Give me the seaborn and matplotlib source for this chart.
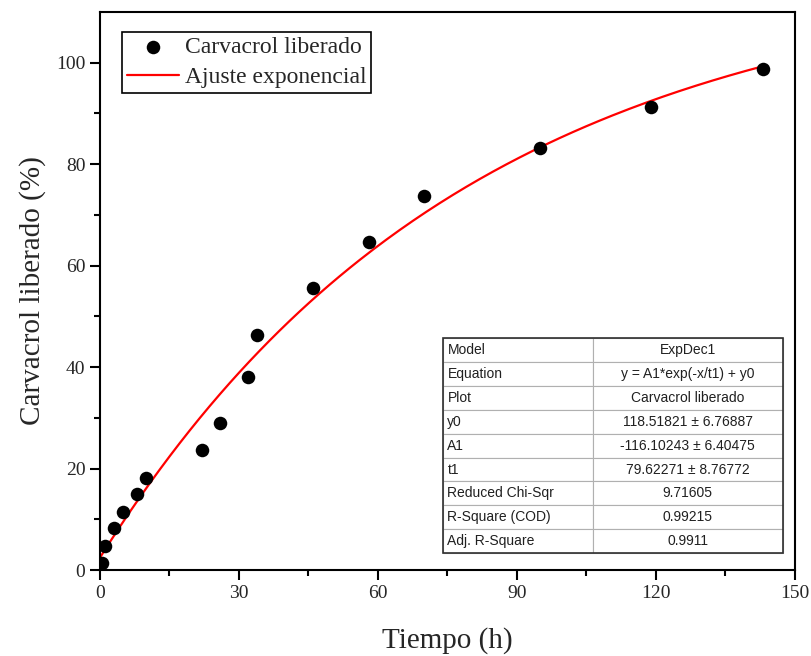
import matplotlib
matplotlib.use('Agg')
import matplotlib.pyplot as plt
import seaborn as sns
import numpy as np
import pandas as pd

# Data
tiempo = [0.5, 1, 3, 5, 8, 10, 22, 26, 32, 34, 46, 58, 70, 95, 119, 143]
liberado = [1.4, 4.7, 8.3, 11.5, 15.0, 18.2, 23.7, 28.9, 38.1, 46.4, 55.5, 64.6, 73.7, 83.2, 91.3, 98.8]

# Fit parameters (ExpDec1) as reported in the table
y0, A1, t1 = 118.51821, -116.10243, 79.62271

tabla_nombres = ['Model', 'Equation', 'Plot', 'y0', 'A1', 't1',
                 'Reduced Chi-Sqr', 'R-Square (COD)', 'Adj. R-Square']
tabla_valores = ['ExpDec1', 'y = A1*exp(-x/t1) + y0', 'Carvacrol liberado',
                 '118.51821 \u00b1 6.76887', '-116.10243 \u00b1 6.40475',
                 '79.62271 \u00b1 8.76772', '9.71605', '0.99215', '0.9911']

data = pd.DataFrame({'Tiempo': tiempo, 'Liberado': liberado})
x_fit = np.linspace(0, 143, 200)
ajuste = pd.DataFrame({'Tiempo': x_fit, 'Liberado': A1 * np.exp(-x_fit / t1) + y0})

sns.set_style('ticks')
plt.rcParams['font.family'] = ['Liberation Serif', 'DejaVu Serif']

fig = plt.figure(figsize=(8.12, 6.56), dpi=100)
ax = fig.add_axes([0.123, 0.131, 0.856, 0.851])

sns.scatterplot(x='Tiempo', y='Liberado', data=data, ax=ax, color='black',
                s=95, edgecolor='black', linewidth=0, label='Carvacrol liberado', zorder=3)
sns.lineplot(x='Tiempo', y='Liberado', data=ajuste, ax=ax, color='red',
             linewidth=1.6, label='Ajuste exponencial', zorder=2)

ax.set_xlim(0, 150)
ax.set_ylim(0, 110)
ax.set_xticks([0, 30, 60, 90, 120, 150])
ax.set_xticks([15, 45, 75, 105, 135], minor=True)
ax.set_yticks([0, 20, 40, 60, 80, 100])
ax.set_yticks([10, 30, 50, 70, 90], minor=True)
ax.tick_params(axis='both', which='major', direction='out', length=7, width=1.5,
               labelsize=14, color='black')
ax.tick_params(axis='both', which='minor', direction='out', length=4, width=1.5, color='black')
for sp in ax.spines.values():
    sp.set_linewidth(1.5)
    sp.set_color('black')
    sp.set_visible(True)

ax.set_xlabel('Tiempo (h)', fontsize=21, labelpad=18)
ax.set_ylabel('Carvacrol liberado (%)', fontsize=21, labelpad=7)

leg = ax.legend(loc='upper left', bbox_to_anchor=(0.032, 0.964), fontsize=17,
                frameon=True, fancybox=False, edgecolor='black', framealpha=1,
                borderpad=0.2, labelspacing=0.35, handlelength=2.2, handletextpad=0.25,
                borderaxespad=0)
leg.get_frame().set_linewidth(1.2)

tabla = ax.table(cellText=[[a, b] for a, b in zip(tabla_nombres, tabla_valores)],
                 cellLoc='center', colWidths=[0.44, 0.56],
                 bbox=[0.4935, 0.030, 0.4895, 0.386], zorder=5)
tabla.auto_set_font_size(False)
for (r, c), cell in tabla.get_celld().items():
    cell.set_edgecolor('#b0b0b0')
    cell.set_linewidth(0.8)
    cell.set_facecolor('white')
    txt = cell.get_text()
    txt.set_fontfamily('Liberation Sans')
    txt.set_fontsize(10)
    txt.set_color('#202020')
    if c == 0:
        cell.PAD = 0.03
        txt.set_ha('left')

# outer border of the table
ax.add_patch(plt.Rectangle((0.4935, 0.030), 0.4895, 0.386, transform=ax.transAxes,
                           fill=False, edgecolor='#303030', linewidth=1.2, zorder=6))

plt.savefig('out.png', dpi=100)
